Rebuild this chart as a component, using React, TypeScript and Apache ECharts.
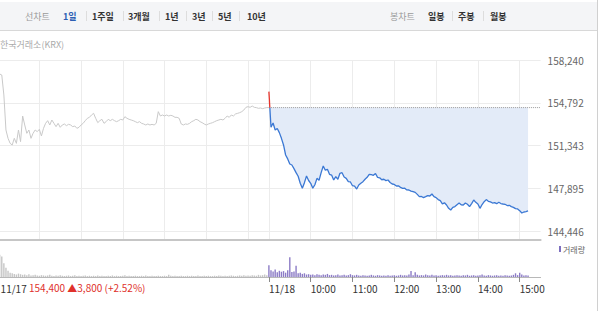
import React, { useEffect, useRef } from "react";
import * as echarts from "echarts";

// ---- data ----
const BASE = 144446; // lowest y tick
const Y_TOP = 158240; // highest y tick
const Y_STEP = 3448.5; // tick spacing (144,446 / 147,895 / 151,343 / 154,792 / 158,240)
const PREV_CLOSE = 154400;
const STEP_MIN = 3; // minutes between samples
const SESSION_MIN = 390; // 09:00..15:30

const prevDayLabel = "11/17";
const todayLabel = "11/18";
const changeText = "154,400 \u25B23,800 (+2.52%)";

// 11/17 prices, every 3 minutes from 09:00 to 15:30
const prevDayPrices = [
  157165, 157111, 157030, 155417, 152594, 151922, 151518, 151384, 151922, 151518,
  152594, 151653, 153723, 152997, 152325, 152594, 151922, 152325, 152594, 152460,
  152648, 152110, 152729, 153132, 153347, 152997, 153401, 153132, 152863, 153132,
  152809, 152997, 153078, 152944, 153051, 152997, 152863, 152917, 152729, 152809,
  152997, 153132, 153347, 153535, 153616, 153804, 153938, 153535, 153186, 153347,
  153455, 153132, 153267, 153455, 153347, 153455, 153347, 153267, 153347, 153455,
  153401, 153669, 153535, 153455, 153401, 153347, 153267, 153186, 153267, 153132,
  153078, 152997, 153078, 152997, 153051, 152997, 153132, 154073, 153723, 153804,
  153723, 153804, 153723, 153777, 153723, 153616, 153616, 153535, 153078, 152997,
  153078, 153051, 153132, 153267, 153347, 153455, 153401, 153267, 153186, 153078,
  152997, 153078, 153132, 153186, 153267, 153347, 153401, 153455, 153401, 153535,
  153723, 153616, 153804, 153723, 153885, 153938, 153992, 154073, 154207, 154423,
  154476, 154423, 154530, 154423, 154396, 154342, 154369, 154315, 154369, 154396,
  154400,
];

// 11/18 prices, every 3 minutes from 09:00
const todayPrices = [
  155686, 152809, 153160, 152594, 152720, 152380, 151922, 151384, 150577, 150260,
  149850, 149770, 149480, 149152, 148860, 148300, 147888, 148345, 148880, 148520,
  148291, 147900, 148180, 148694, 148540, 149152, 149690, 149350, 149420, 149020,
  148960, 148560, 148829, 148620, 149100, 149152, 148800, 148694, 148430, 148400,
  148100, 148060, 147830, 148157, 148300, 148426, 148620, 148775, 149020, 148990,
  148937, 149080, 148775, 148740, 148580, 148620, 148510, 148560, 148360, 148237,
  148200, 148076, 148090, 147960, 147888, 147900, 147760, 147754, 147660, 147619,
  147560, 147400, 147216, 147230, 147140, 147216, 147300, 147270, 147431, 147216,
  147140, 146980, 146893, 146640, 146720, 146544, 146275, 146140, 146355, 146420,
  146570, 146700, 146560, 146544, 146700, 146600, 146409, 146660, 146947, 146760,
  146624, 146275, 146580, 146812, 146980, 146839, 146800, 146700, 146740, 146650,
  146760, 146660, 146624, 146600, 146500, 146520, 146409, 146350, 146248, 146230,
  146086, 145898, 145980, 146006, 146060,
];

// relative volume, every 3 minutes
const prevDayVolume = [
  80, 72, 66, 44, 30, 20, 14, 12, 10, 8, 11, 9, 7, 8, 6, 9, 5, 6, 7, 5,
  4, 6, 5, 4, 5, 7, 4, 3, 5, 4, 6, 4, 3, 4, 5, 3, 4, 6, 3, 4,
  3, 4, 5, 3, 4, 3, 4, 3, 5, 3, 4, 3, 3, 4, 3, 5, 3, 4, 3, 3,
  4, 6, 3, 4, 3, 3, 4, 3, 3, 4, 3, 5, 3, 3, 4, 3, 3, 4, 3, 3,
  4, 3, 7, 4, 3, 4, 3, 3, 4, 3, 3, 4, 3, 4, 3, 3, 5, 3, 3, 4,
  3, 4, 3, 3, 4, 3, 5, 4, 3, 4, 3, 4, 5, 4, 3, 4, 5, 4, 6, 4,
  5, 4, 6, 5, 4, 7, 5, 6, 8, 6,
];
const todayVolume = [
  38, 22, 18, 24, 15, 20, 17, 19, 14, 22, 64, 16, 18, 36, 12, 14, 10, 12, 8, 9,
  7, 8, 6, 9, 7, 6, 8, 7, 10, 6, 7, 5, 6, 8, 5, 6, 7, 5, 6, 9,
  6, 5, 7, 5, 4, 6, 5, 4, 5, 7, 5, 4, 6, 5, 4, 5, 4, 6, 4, 5,
  6, 4, 5, 7, 5, 6, 5, 8, 19, 6, 15, 7, 5, 6, 5, 8, 6, 5, 7, 5,
  6, 4, 5, 6, 5, 7, 5, 6, 4, 5, 6, 5, 4, 6, 5, 7, 4, 5, 6, 4,
  5, 6, 8, 5, 4, 6, 5, 4, 5, 6, 4, 5, 4, 6, 5, 4, 5, 7, 12, 6,
  14, 8, 5, 6, 5,
];

const periodTabs = ["1일", "1주일", "3개월", "1년", "3년", "5년", "10년"];
const candleTabs = ["일봉", "주봉", "월봉"];

// ---- helpers ----
const pad = (n: number) => (n < 10 ? "0" + n : "" + n);
const clock = (m: number) => {
  const t = 9 * 60 + m;
  return pad(Math.floor(t / 60)) + ":" + pad(t % 60);
};
const FONT = '"Noto Sans CJK KR", "Noto Sans", sans-serif';

// layout of the two day panels
const P_LEFT = -2.4;
const SPLIT_X = 268.9;
const RIGHT = 59.4;
const P_WIDTH = SPLIT_X - P_LEFT;

export default function App() {
  const ref = useRef<HTMLDivElement>(null);
  useEffect(() => {
    if (!ref.current) return;
    const chart = echarts.init(ref.current, undefined, { renderer: "svg" });
    const closeOff = PREV_CLOSE - BASE;
    const yMax = Y_TOP - BASE;

    // where the opening spike crosses the previous close
    const cross = (STEP_MIN * (todayPrices[0] - PREV_CLOSE)) / (todayPrices[0] - todayPrices[1]);
    const redData = [[0, todayPrices[0] - BASE], [cross, closeOff]];
    const blueData = [[cross, closeOff], ...todayPrices.slice(1).map((p, i) => [(i + 1) * STEP_MIN, p - BASE])];

    const tabGraphics: any[] = [];
    tabGraphics.push({ type: "rect", shape: { x: 0, y: 2, width: 597, height: 28 }, style: { fill: "#f4f5f7" }, silent: true });
    tabGraphics.push({ type: "line", shape: { x1: 0, y1: 30.5, x2: 597, y2: 30.5 }, style: { stroke: "#d8d8d8", lineWidth: 1 }, silent: true });
    tabGraphics.push({ type: "line", shape: { x1: 597.5, y1: 0, x2: 597.5, y2: 311 }, style: { stroke: "#d0d0d0", lineWidth: 1 }, silent: true });
    tabGraphics.push({ type: "text", x: 25, y: 16, style: { text: "선차트", fill: "#9a9a9a", fontSize: 9, fontFamily: FONT, verticalAlign: "middle" } });
    const periodX = [63, 92, 128, 165, 192, 218, 247];
    const sepX = [86, 123, 159, 186, 212, 239];
    periodTabs.forEach((t, i) => {
      tabGraphics.push({
        type: "text", x: periodX[i], y: 16,
        style: { text: t, fill: i === 0 ? "#2c5fb3" : "#333", fontSize: 9, fontWeight: "bold", fontFamily: FONT, verticalAlign: "middle" },
      });
    });
    sepX.forEach((x) => tabGraphics.push({ type: "line", shape: { x1: x + 0.5, y1: 11, x2: x + 0.5, y2: 21 }, style: { stroke: "#dddddd", lineWidth: 1 } }));
    tabGraphics.push({ type: "text", x: 390, y: 16, style: { text: "봉차트", fill: "#9a9a9a", fontSize: 9, fontFamily: FONT, verticalAlign: "middle" } });
    const candleX = [428, 458, 490];
    candleTabs.forEach((t, i) => {
      tabGraphics.push({ type: "text", x: candleX[i], y: 16, style: { text: t, fill: "#333", fontSize: 9, fontWeight: "bold", fontFamily: FONT, verticalAlign: "middle" } });
    });
    [452, 483].forEach((x) => tabGraphics.push({ type: "line", shape: { x1: x + 0.5, y1: 11, x2: x + 0.5, y2: 21 }, style: { stroke: "#dddddd", lineWidth: 1 } }));

    const pGrid = (top: number, bottom: number) => ({ left: P_LEFT, width: P_WIDTH, top, bottom, outerBoundsMode: "none", containLabel: false });
    const tGrid = (top: number, bottom: number) => ({ left: SPLIT_X, right: RIGHT, top, bottom, outerBoundsMode: "none", containLabel: false });
    const timeAxis = (gridIndex: number, extra: any) => ({
      gridIndex, type: "value", min: 0, max: SESSION_MIN, interval: 60, ...extra,
    });
    const hidden = { show: false };
    const vertGrid = {
      axisLine: { show: true, onZero: false, lineStyle: { color: "#c6c6c6", width: 2 } },
      axisTick: hidden, axisLabel: hidden,
      splitLine: { show: true, showMinLine: false, lineStyle: { color: "#ececec", width: 1 } },
    };

    const option: any = {
      animation: false,
      backgroundColor: "#ffffff",
      grid: [
        pGrid(60, 71), // 0: prev day gridlines
        tGrid(60, 71), // 1: today gridlines
        pGrid(60, 80), // 2: prev day price
        tGrid(60, 80), // 3: today price
        pGrid(246, 34), // 4: prev day volume
        tGrid(246, 34), // 5: today volume
      ],
      xAxis: [
        timeAxis(0, { ...vertGrid }),
        timeAxis(1, { ...vertGrid, splitLine: { ...vertGrid.splitLine, showMinLine: true, showMaxLine: false } }),
        timeAxis(2, { show: false }),
        timeAxis(3, { show: false }),
        timeAxis(4, {
          axisLine: { show: true, onZero: false, lineStyle: { color: "#b8b8b8", width: 1 } },
          axisTick: hidden, splitLine: hidden,
          axisLabel: {
            show: true, align: "left", margin: 6, color: "#333", fontSize: 10, fontFamily: FONT,
            showMaxLabel: false, padding: [0, 0, 0, 3],
            formatter: (v: number) => (v === 0 ? prevDayLabel : ""),
          },
        }),
        timeAxis(5, {
          axisLine: { show: true, onZero: false, lineStyle: { color: "#b8b8b8", width: 1 } },
          axisTick: { show: true, length: 5, lineStyle: { color: "#8a8a8a" } },
          splitLine: hidden,
          axisLabel: {
            show: true, align: "left", margin: 6, color: "#333", fontSize: 10, fontFamily: FONT,
            showMaxLabel: false,
            formatter: (v: number) => (v === 0 ? todayLabel : v >= SESSION_MIN ? "" : clock(v)),
          },
        }),
      ],
      yAxis: [
        { gridIndex: 0, type: "value", min: 0, max: 1, show: false },
        { gridIndex: 1, type: "value", min: 0, max: 1, show: false },
        {
          gridIndex: 2, type: "value", min: 0, max: yMax, interval: Y_STEP,
          axisLine: hidden, axisTick: hidden, axisLabel: hidden,
          splitLine: { show: true, lineStyle: { color: "#ececec", width: 1 } },
        },
        {
          gridIndex: 3, type: "value", position: "right", min: 0, max: yMax, interval: Y_STEP,
          axisLine: hidden, axisTick: hidden,
          axisLabel: {
            color: "#666", fontSize: 10, fontFamily: FONT, margin: 7,
            formatter: (v: number) => Math.round(v + BASE).toLocaleString("en-US"),
          },
          splitLine: { show: true, lineStyle: { color: "#ececec", width: 1 } },
        },
        { gridIndex: 4, type: "value", min: 0, max: 100, show: false },
        { gridIndex: 5, type: "value", min: 0, max: 100, show: false },
      ],
      series: [
        {
          type: "line", xAxisIndex: 2, yAxisIndex: 2, symbol: "none", silent: true,
          data: prevDayPrices.map((p, i) => [i * STEP_MIN, p - BASE]),
          lineStyle: { color: "#c9c9c9", width: 1 },
        },
        {
          type: "line", xAxisIndex: 3, yAxisIndex: 3, symbol: "none", silent: true,
          data: [[0, closeOff], [SESSION_MIN, closeOff]],
          lineStyle: { color: "#9a9a9a", type: "dotted", width: 1 },
        },
        {
          type: "line", xAxisIndex: 3, yAxisIndex: 3, symbol: "none", silent: true,
          data: blueData,
          lineStyle: { color: "#3b78d4", width: 1.3 },
          areaStyle: { color: "#e3ebf8", opacity: 1, origin: closeOff },
          z: 3,
        },
        {
          type: "line", xAxisIndex: 3, yAxisIndex: 3, symbol: "none", silent: true,
          data: redData,
          lineStyle: { color: "#e5352c", width: 1.3 },
          z: 3,
        },
        {
          type: "bar", xAxisIndex: 4, yAxisIndex: 4, silent: true, barWidth: 1.4,
          data: prevDayVolume.map((v, i) => [i * STEP_MIN, v]),
          itemStyle: { color: "#c6c6c6" },
        },
        {
          type: "bar", xAxisIndex: 5, yAxisIndex: 5, silent: true, barWidth: 1.4,
          data: todayVolume.map((v, i) => [i * STEP_MIN, v]),
          itemStyle: { color: "#8c7cc6" },
        },
      ],
      graphic: [
        ...tabGraphics,
        { type: "text", x: 0, y: 44, style: { text: "한국거래소(KRX)", fill: "#aaaaaa", fontSize: 9, fontFamily: FONT, verticalAlign: "middle" } },
        { type: "rect", shape: { x: 559, y: 246, width: 2, height: 6 }, style: { fill: "#7d6fc0" } },
        { type: "text", x: 563, y: 249, style: { text: "거래량", fill: "#666", fontSize: 8, fontFamily: FONT, verticalAlign: "middle" } },
        { type: "text", x: 29, y: 287.5, style: { text: changeText, fill: "#e0312b", fontSize: 10, fontFamily: FONT, verticalAlign: "middle" } },
      ],
    };
    chart.setOption(option);
    return () => chart.dispose();
  }, []);

  return (
    <div
      ref={ref}
      style={{ position: "absolute", left: 0, top: 0, width: 600, height: 311, background: "#fff" }}
    />
  );
}
